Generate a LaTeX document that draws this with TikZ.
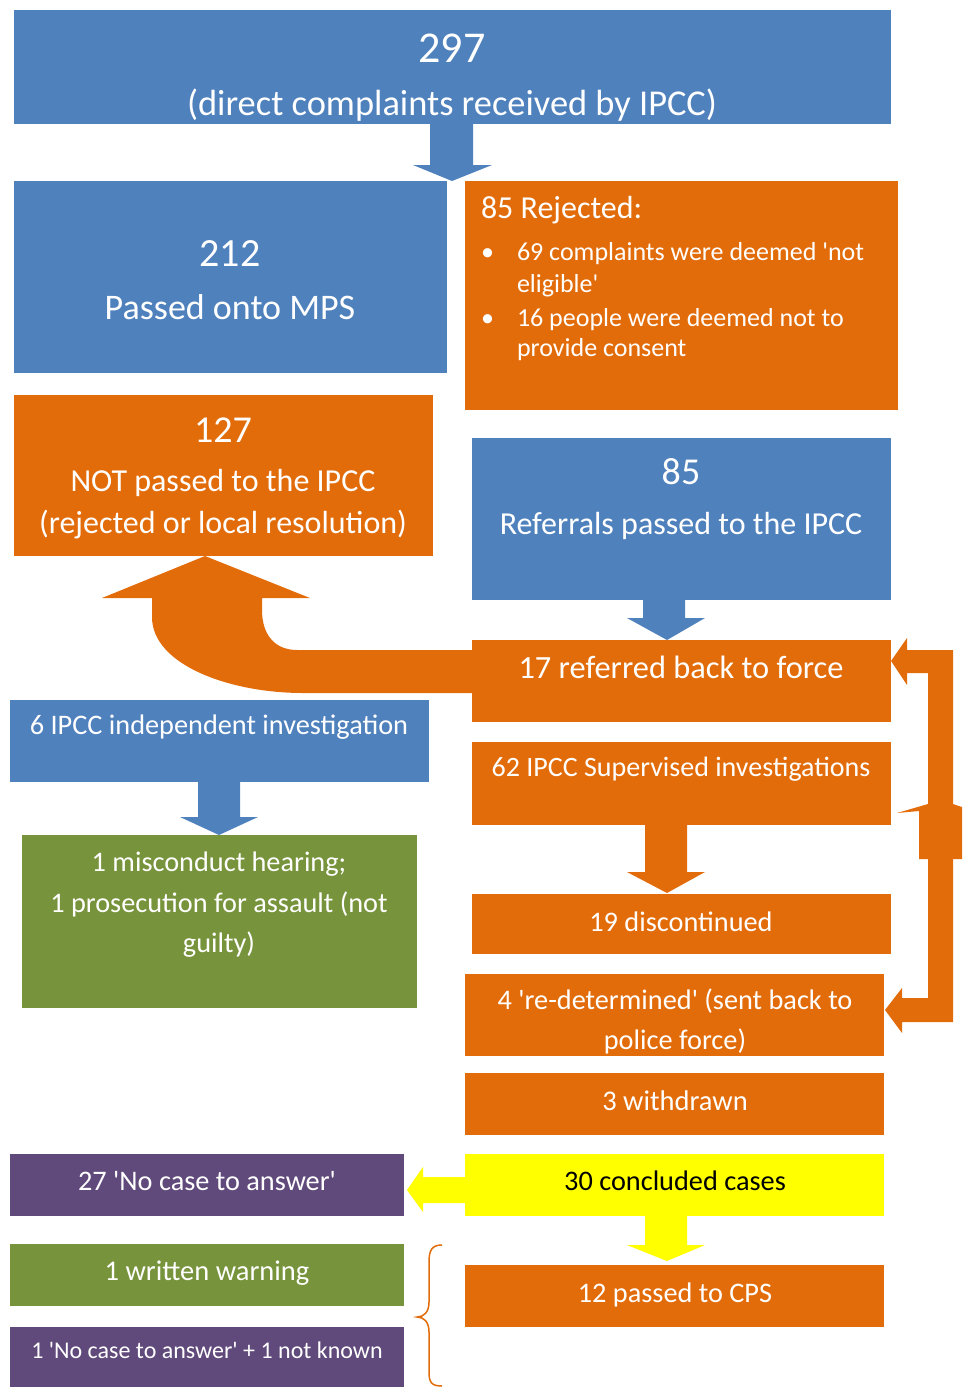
\documentclass[tikz,border=0pt]{standalone}
\usepackage{fontspec}
\setmainfont{Carlito}[Ligatures=TeXOff]
\definecolor{oblue}{RGB}{79,129,189}
\definecolor{oorange}{RGB}{227,108,10}
\definecolor{ogreen}{RGB}{119,147,60}
\definecolor{opurple}{RGB}{96,74,123}
\definecolor{oyellow}{RGB}{255,255,0}
\newcommand\fs[1]{\fontsize{#1}{#1}\selectfont}
\newcommand\bx[6]{\pgfmathsetmacro\bw{#5-#3}\pgfmathsetmacro\bh{#6-#4}%
  \node[boxst,fill=#2,minimum width=\bw pt,minimum height=\bh pt] (#1) at (#3,#4) {};}
\begin{document}
\begin{tikzpicture}[x=1pt,y=-1pt,
  boxst/.style={inner sep=0pt,outer sep=0pt,draw=none,anchor=north west,rectangle},
  txt/.style={inner sep=0pt,outer sep=0pt,anchor=base,text=white},
  txtl/.style={inner sep=0pt,outer sep=0pt,anchor=base west,text=white},
  blk/.style={fill=#1,draw=none}]
\useasboundingbox (0,0) rectangle (962,1387);
% boxes
\bx{b297}{oblue}{14}{10}{891}{124}
\bx{b212}{oblue}{14}{181}{447}{373}
\bx{b85r}{oorange}{465}{181}{898}{410}
\bx{b127}{oorange}{14}{395}{433}{556}
\bx{b85}{oblue}{472}{438}{891}{600}
\bx{b17}{oorange}{472}{640}{891}{722}
\bx{b6}{oblue}{10}{700}{429}{782}
\bx{b62}{oorange}{472}{742}{891}{825}
\bx{bgr}{ogreen}{22}{835}{417}{1008}
\bx{b19}{oorange}{472}{894}{891}{954}
\bx{b4}{oorange}{465}{974}{884}{1056}
\bx{b3}{oorange}{465}{1073}{884}{1135}
\bx{b30}{oyellow}{465}{1154}{884}{1216}
\bx{b27}{opurple}{10}{1154}{404}{1216}
\bx{bww}{ogreen}{10}{1244}{404}{1306}
\bx{b12}{oorange}{465}{1265}{884}{1327}
\bx{bnc}{opurple}{10}{1327}{404}{1387}
% block arrows
\fill[blk=oblue] (430,124) -- (473,124) -- (473,165) -- (492,165) -- (452,181) -- (413,165) -- (430,165) -- cycle;
\fill[blk=oblue] (643,600) -- (685,600) -- (685,618) -- (705,618) -- (667,640) -- (627,618) -- (643,618) -- cycle;
\fill[blk=oblue] (198,782) -- (240,782) -- (240,817) -- (258,817) -- (219,835) -- (180,817) -- (198,817) -- cycle;
\fill[blk=oorange] (645,825) -- (687,825) -- (687,872) -- (705,872) -- (667,893) -- (627,872) -- (645,872) -- cycle;
\fill[blk=oyellow] (645,1216) -- (687,1216) -- (687,1245) -- (705,1245) -- (667,1261) -- (627,1245) -- (645,1245) -- cycle;
\fill[blk=oyellow] (465,1177) -- (423,1177) -- (423,1167) -- (407,1190) -- (423,1212) -- (423,1203) -- (465,1203) -- cycle;
% curved arrow
\fill[blk=oorange] (473,650) -- (297,650) .. controls (275,650) and (262,635) .. (262,610) -- (262,598) -- (310,598) -- (205,556) -- (102,598) -- (152,598) -- (152,617) .. controls (152,665) and (230,693) .. (303,693) -- (473,693) -- cycle;
% right connector
\fill[blk=oorange] (891,661) -- (907,638) -- (907,650) -- (953,650) -- (953,1022) -- (902,1022) -- (902,1033) -- (885,1010) -- (902,988) -- (902,998) -- (928,998) -- (928,673) -- (907,673) -- (907,685) -- cycle;
\fill[blk=oorange] (897,813) -- (928,804) -- (953,804) -- (962,807) -- (962,859) -- (919,859) -- (919,811) -- cycle;
% brace
\draw[oorange,line width=1.5pt] (442,1245) .. controls (432,1245) and (429,1250) .. (429,1262) -- (429,1302) .. controls (429,1312) and (424,1317) .. (417,1317) .. controls (424,1317) and (429,1322) .. (429,1332) -- (429,1372) .. controls (429,1383) and (432,1386) .. (442,1386);
% texts
\node[txt,font=\fs{44}] (t297) at (452,62) {297};
\begin{scope}
\clip (14,10) rectangle (891,124);
\node[txt,font=\fs{36.4}] (t297b) at (452,115) {(direct complaints received by IPCC)};
\end{scope}
\node[txt,font=\fs{40}] (t212) at (230,266) {212};
\node[txt,font=\fs{36}] (t212b) at (230,319) {Passed onto MPS};
\node[txtl,font=\fs{32}] (t85r) at (481,218) {85 Rejected:};
\node[txtl,font=\fs{26}] (bul1) at (481,260) {•};
\node[txtl,font=\fs{26}] (t85r1) at (517,260) {69 complaints were deemed 'not};
\node[txtl,font=\fs{26}] (t85r2) at (517,292) {eligible'};
\node[txtl,font=\fs{26}] (bul2) at (481,326) {•};
\node[txtl,font=\fs{26}] (t85r3) at (517,326) {16 people were deemed not to};
\node[txtl,font=\fs{26}] (t85r4) at (517,356) {provide consent};
\node[txt,font=\fs{38}] (t127) at (223,442) {127};
\node[txt,font=\fs{32}] (t127b) at (223,491) {NOT passed to the IPCC};
\node[txt,font=\fs{32}] (t127c) at (223,533) {(rejected or local resolution)};
\node[txt,font=\fs{38}] (t85) at (681,484) {85};
\node[txt,font=\fs{32}] (t85b) at (681,534) {Referrals passed to the IPCC};
\node[txt,font=\fs{32.4}] (t17) at (681,678) {17 referred back to force};
\node[txt,font=\fs{28.3}] (t6) at (219,734) {6 IPCC independent investigation};
\node[txt,font=\fs{28}] (t62) at (681,776) {62 IPCC Supervised investigations};
\node[txt,font=\fs{28.3}] (tg1) at (219,871) {1 misconduct hearing;};
\node[txt,font=\fs{28.3}] (tg2) at (219,912) {1 prosecution for assault (not};
\node[txt,font=\fs{28.3}] (tg3) at (219,952) {guilty)};
\node[txt,font=\fs{28.3}] (t19) at (681,931) {19 discontinued};
\begin{scope}
\clip (465,974) rectangle (884,1056);
\node[txt,font=\fs{28.3}] (t4a) at (675,1009) {4 're-determined' (sent back to};
\node[txt,font=\fs{28.3}] (t4b) at (675,1049) {police force)};
\end{scope}
\node[txt,font=\fs{28.5}] (t3) at (675,1110) {3 withdrawn};
\node[txt,font=\fs{28.3},text=black] (t30) at (675,1190) {30 concluded cases};
\node[txt,font=\fs{28.3}] (t27) at (207,1190) {27 'No case to answer'};
\node[txt,font=\fs{28.5}] (tww) at (207,1280) {1 written warning};
\node[txt,font=\fs{28.3}] (t12) at (675,1302) {12 passed to CPS};
\node[txt,font=\fs{24}] (tnc) at (207,1358) {1 'No case to answer' + 1 not known};
\end{tikzpicture}
\end{document}
